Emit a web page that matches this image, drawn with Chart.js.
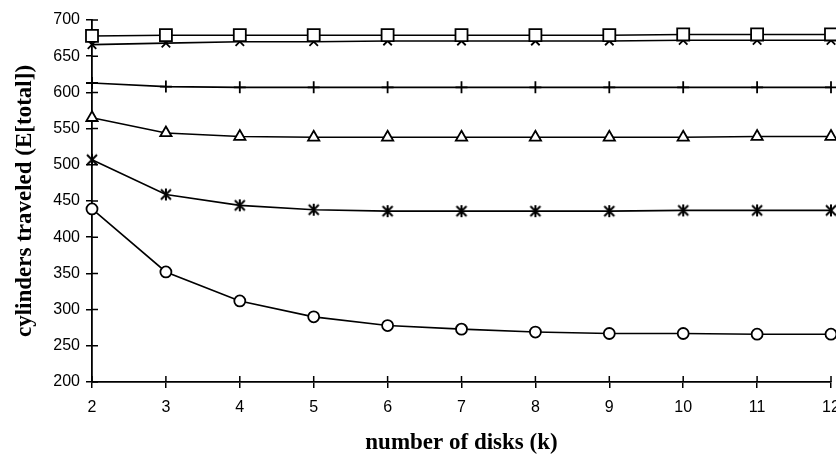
<!DOCTYPE html>
<html>
<head>
<meta charset="utf-8">
<script src="https://cdn.jsdelivr.net/npm/chart.js@4.4.1/dist/chart.umd.min.js"></script>
<style>
  html, body { margin: 0; padding: 0; background: #fff; }
  #wrap { width: 836px; height: 461px; }
</style>
</head>
<body>
<div id="wrap"><canvas id="myChart" width="836" height="461"></canvas></div>
<script>
// number of disks (k)
const disks = ['2', '3', '4', '5', '6', '7', '8', '9', '10', '11', '12'];

// expected cylinders traveled, one array per curve (top to bottom)
const squareSeries   = [678, 679, 679, 679, 679, 679, 679, 679, 680, 680, 680];
const xSeries        = [666, 668, 670, 670, 671, 671, 671, 671, 672, 672, 672];
const plusSeries     = [613, 608, 607, 607, 607, 607, 607, 607, 607, 607, 607];
const triangleSeries = [565, 544, 539, 538, 538, 538, 538, 538, 538, 539, 539];
const starSeries     = [507, 459, 444, 438, 436, 436, 436, 436, 437, 437, 437];
const circleSeries   = [439, 352, 312, 290, 278, 273, 269, 267, 267, 266, 266];

const yMin = 200;
const yMax = 700;
const yStep = 50;

// six-armed asterisk marker (x with a vertical bar)
function asteriskMarker() {
    const c = document.createElement('canvas');
    c.width = 14;
    c.height = 14;
    const g = c.getContext('2d');
    g.strokeStyle = '#000';
    g.lineWidth = 2;
    g.beginPath();
    g.moveTo(2, 2); g.lineTo(12, 12);
    g.moveTo(12, 2); g.lineTo(2, 12);
    g.moveTo(7, 1); g.lineTo(7, 13);
    g.stroke();
    return c;
}

function makeSet(data, style, radius) {
    return {
        data: data,
        borderColor: '#000',
        borderWidth: 1.6,
        pointStyle: style,
        pointRadius: radius,
        pointBackgroundColor: '#fff',
        pointBorderColor: '#000',
        pointBorderWidth: 1.8,
        tension: 0,
        fill: false
    };
}

// tick marks that cross the axis line (inner half)
const innerTicks = {
    id: 'innerTicks',
    afterDraw(chart) {
        const ctx = chart.ctx;
        const x = chart.scales.x;
        const y = chart.scales.y;
        ctx.save();
        ctx.strokeStyle = '#000';
        ctx.lineWidth = 1.5;
        ctx.beginPath();
        y.ticks.forEach(t => {
            const py = y.getPixelForValue(t.value);
            ctx.moveTo(x.left, py);
            ctx.lineTo(x.left + 6, py);
        });
        disks.forEach((d, i) => {
            const px = x.getPixelForValue(i);
            ctx.moveTo(px, y.bottom);
            ctx.lineTo(px, y.bottom - 6);
        });
        ctx.stroke();
        ctx.restore();
    }
};

new Chart(document.getElementById('myChart').getContext('2d'), {
    type: 'line',
    data: {
        labels: disks,
        datasets: [
            makeSet(squareSeries, 'rect', 8.5),
            makeSet(xSeries, 'crossRot', 6),
            makeSet(plusSeries, 'cross', 6),
            makeSet(triangleSeries, 'triangle', 6.5),
            makeSet(starSeries, asteriskMarker(), 7),
            makeSet(circleSeries, 'circle', 5.5)
        ]
    },
    options: {
        responsive: false,
        animation: false,
        layout: { autoPadding: false, padding: { left: 0, right: 5, top: 20, bottom: 4 } },
        plugins: {
            legend: { display: false },
            tooltip: { enabled: false }
        },
        scales: {
            x: {
                type: 'category',
                offset: false,
                grid: { display: true, drawOnChartArea: false, drawTicks: true, tickLength: 6, color: '#000', lineWidth: 1.5 },
                border: { display: true, color: '#000', width: 1.8 },
                ticks: { color: '#000', font: { family: 'Liberation Sans, Arial, sans-serif', size: 16 }, padding: 10, maxRotation: 0, autoSkip: false },
                title: {
                    display: true,
                    text: 'number of disks (k)',
                    color: '#000',
                    font: { family: 'Liberation Serif, Times New Roman, serif', size: 23, weight: 'bold' },
                    padding: { top: 0, bottom: 0 }
                },
                afterFit(scale) {
                    scale.height = 75;
                    scale.paddingRight = 0;
                }
            },
            y: {
                min: yMin,
                max: yMax,
                ticks: { stepSize: yStep, color: '#000', font: { family: 'Liberation Sans, Arial, sans-serif', size: 16 }, padding: 6 },
                grid: { display: true, drawOnChartArea: false, drawTicks: true, tickLength: 6, color: '#000', lineWidth: 1.5 },
                border: { display: true, color: '#000', width: 1.8 },
                title: {
                    display: true,
                    text: 'cylinders traveled (E[total])',
                    color: '#000',
                    font: { family: 'Liberation Serif, Times New Roman, serif', size: 23, weight: 'bold' },
                    padding: { top: 11, bottom: 0 }
                },
                afterFit(scale) {
                    scale.width = 92;
                }
            }
        }
    },
    plugins: [innerTicks]
});
</script>
</body>
</html>
